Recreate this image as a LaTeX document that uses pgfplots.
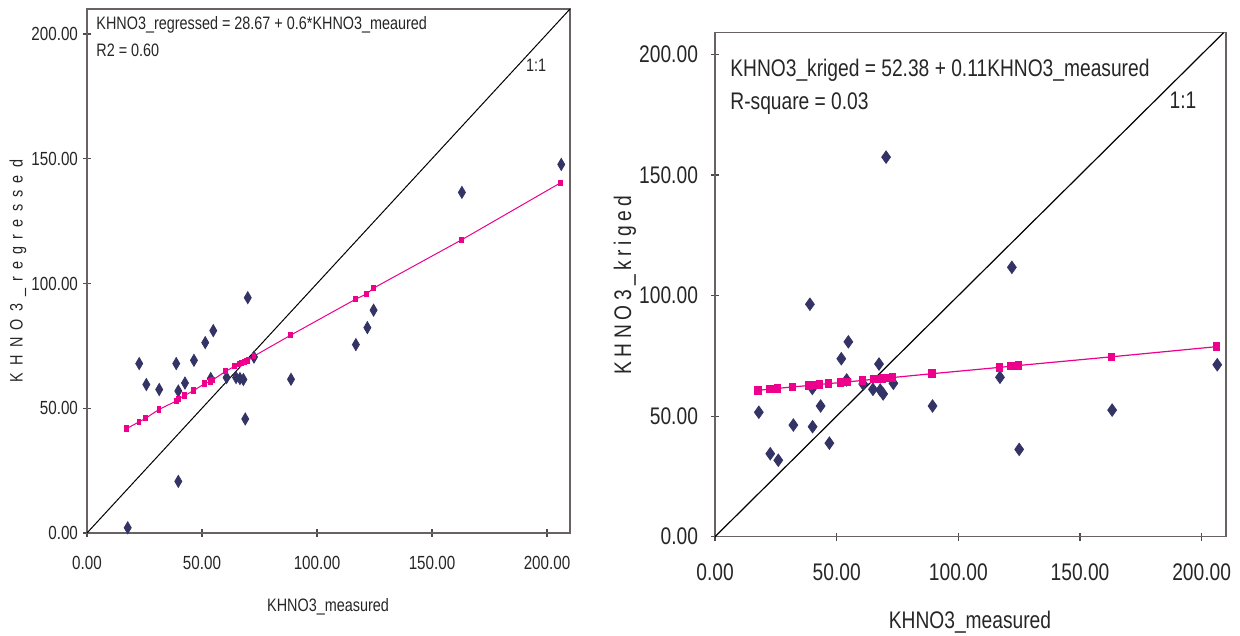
\documentclass[border=0pt]{standalone}
\usepackage{fontspec}
\setmainfont{Liberation Sans}[FakeStretch=0.8]
\usepackage{pgfplots}
\pgfplotsset{compat=1.18}
\definecolor{navy}{RGB}{51,51,102}
\definecolor{pinkm}{RGB}{236,0,140}
\definecolor{axgray}{RGB}{105,98,98}
\pgfplotsset{kh/.style={
  scale only axis, xmin=0, xmax=210, ymin=0,
  xtick={0,50,100,150,200}, ytick={0,50,100,150,200},
  tick align=center, xtick pos=left, ytick pos=left,
  major tick length=4pt,
  tick style={draw=black!70, line width=0.6pt},
  axis line style={draw=axgray, line width=0.7pt},
  /pgf/number format/fixed, /pgf/number format/fixed zerofill,
  /pgf/number format/precision=2, /pgf/number format/1000 sep={},
  /pgf/number format/assume math mode=true,
  clip=false,
}}
\begin{document}
\begin{tikzpicture}
\path[use as bounding box] (0,0) rectangle (620pt,318pt);
% ---------- left panel ----------
\begin{axis}[kh, at={(43.5pt,51.5pt)}, anchor=south west,
  width=241.5pt, height=262pt, ymax=210,
  ticklabel style={font=\fontsize{9.5}{11}\selectfont, text=black!85},
  xticklabel style={yshift=-6pt}, yticklabel style={xshift=1pt}]
\addplot[black, line width=0.5pt] coordinates {(0,0) (210,210)};
\addplot[only marks, mark=diamond*, mark size=3pt, mark options={xscale=0.78, fill=navy, draw=navy}] coordinates {
(17.7,2.1) (22.7,67.9) (25.8,59.5) (31.4,57.5) (38.8,67.9) (39.7,56.9) (39.7,20.7)
(42.6,60.1) (46.5,69.2) (51.4,76.3) (53.8,61.9) (54.9,81.1) (60.7,62.3) (64.8,62.3)
(66.5,61.9) (68.0,61.5) (68.8,45.7) (69.9,94.3) (72.6,70.5) (88.7,61.6) (116.9,75.5)
(121.9,82.3) (124.6,89.3) (163.0,136.5) (206.2,147.7)};
\addplot[pinkm, line width=0.5pt, mark=square*, mark size=1.3pt, mark options={xscale=0.75, fill=pinkm, draw=pinkm}] coordinates {
(17.3,41.9) (22.6,44.5) (25.5,46.0) (31.3,49.5) (38.8,52.9) (39.7,53.7) (42.5,55.1)
(46.4,57.1) (51.2,59.9) (53.6,60.7) (54.6,61.3) (60.3,64.8) (64.3,66.9) (66.1,67.6)
(67.1,68.0) (68.3,68.5) (69.3,68.9) (70.0,69.1) (72.6,70.9) (88.6,79.3) (116.8,93.7)
(121.7,95.9) (124.5,98.1) (162.9,117.5) (206.0,140.4)};
\end{axis}
% ---------- right panel ----------
\begin{axis}[kh, at={(357.5pt,49.65pt)}, anchor=south west,
  width=255.5pt, height=252pt, ymax=209,
  ticklabel style={font=\fontsize{12}{14}\selectfont, text=black!85},
  xticklabel style={yshift=-8pt}, yticklabel style={xshift=-3pt}]
\addplot[black, line width=0.6pt] coordinates {(0,0) (209,209)};
\addplot[only marks, mark=diamond*, mark size=3.1pt, mark options={xscale=0.95, fill=navy, draw=navy}] coordinates {
(18.0,51.6) (22.7,34.4) (26.0,31.7) (32.2,46.3) (39.0,96.4) (40.0,61.5) (40.1,45.6)
(43.4,54.2) (47.0,38.8) (51.9,73.8) (54.1,65.0) (54.8,80.8) (60.9,63.3) (64.9,61.1)
(67.4,71.6) (67.9,60.8) (69.1,59.2) (70.3,157.4) (73.3,63.6) (89.4,54.2) (117.1,66.1)
(122.0,111.7) (125.0,36.2) (163.2,52.5) (206.4,71.3)};
\addplot[pinkm, line width=0.6pt, mark=square*, mark size=1.8pt, mark options={xscale=0.85, fill=pinkm, draw=pinkm}] coordinates {
(17.7,60.7) (22.6,61.2) (25.6,61.5) (31.9,62.1) (38.6,62.7) (39.7,62.8) (39.9,62.8)
(42.9,63.1) (46.5,63.5) (51.5,63.9) (53.7,64.2) (54.5,64.2) (60.7,64.8) (65.2,65.3)
(66.8,65.4) (67.9,65.5) (68.9,65.6) (70.0,65.7) (73.0,66.0) (89.2,67.6) (116.8,70.2)
(121.6,70.7) (124.8,71.0) (163.0,74.6) (206.1,78.8)};
\end{axis}
% ---------- texts ----------
\begin{scope}[every node/.style={inner sep=0pt, text=black!85}]
\node[anchor=west] at (48pt,305.5pt) {\fontsize{9}{10}\selectfont KHNO3\_regressed = 28.67 + 0.6*KHNO3\_meaured};
\node[anchor=west] at (48pt,293pt) {\fontsize{9}{10}\selectfont R2 = 0.60};
\node at (268pt,285.5pt) {\fontsize{9}{10}\selectfont 1:1};
\node at (164pt,14.5pt) {\fontsize{9}{10}\selectfont KHNO3\_measured};
\node[rotate=90] at (9pt,182.5pt) {\fontsize{9}{10}\selectfont\addfontfeature{LetterSpace=40}KHNO3\_regressed};
\node[anchor=west] at (365pt,283pt) {\fontsize{12}{14}\selectfont KHNO3\_kriged = 52.38 + 0.11KHNO3\_measured};
\node[anchor=west] at (365pt,266pt) {\fontsize{12}{14}\selectfont R-square = 0.03};
\node at (591.5pt,268pt) {\fontsize{12}{14}\selectfont 1:1};
\node at (485pt,7pt) {\fontsize{12}{14}\selectfont KHNO3\_measured};
\node[rotate=90] at (312.5pt,175.5pt) {\fontsize{12}{14}\selectfont\addfontfeature{LetterSpace=19}KHNO3\_kriged};
\end{scope}
\end{tikzpicture}
\end{document}
